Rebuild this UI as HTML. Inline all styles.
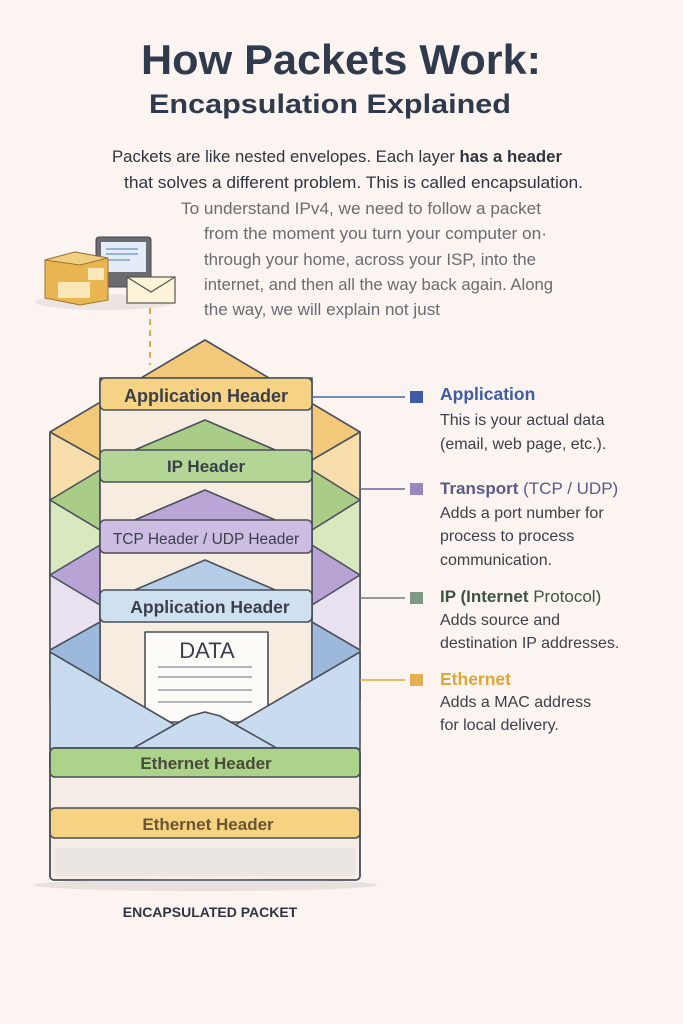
<!DOCTYPE html>
<html><head><meta charset="utf-8"><style>
html,body{margin:0;padding:0;background:#fcf4f1;}
svg{display:block;font-family:"Liberation Sans",sans-serif;}
</style></head><body>
<svg width="683" height="1024" viewBox="0 0 683 1024" xmlns="http://www.w3.org/2000/svg">
<rect width="683" height="1024" fill="#fcf4f1"/>
<text x="341" y="74" text-anchor="middle" font-size="42" font-weight="bold" fill="#2f3a4c" textLength="400" lengthAdjust="spacingAndGlyphs">How Packets Work:</text>
<text x="330" y="113" text-anchor="middle" font-size="27" font-weight="bold" fill="#2f3a4c" textLength="362" lengthAdjust="spacingAndGlyphs">Encapsulation Explained</text>
<g font-size="17" fill="#2f3440">
<text x="112" y="162" textLength="450" lengthAdjust="spacingAndGlyphs">Packets are like nested envelopes. Each layer <tspan font-weight="bold">has a header</tspan></text>
<text x="124" y="188" textLength="459" lengthAdjust="spacingAndGlyphs">that solves a different problem. This is called encapsulation.</text>
</g>
<g font-size="16.5" fill="#6b6b70">
<text x="181" y="214" textLength="360" lengthAdjust="spacingAndGlyphs">To understand IPv4, we need to follow a packet</text>
<text x="204" y="239" textLength="343" lengthAdjust="spacingAndGlyphs">from the moment you turn your computer on·</text>
<text x="204" y="265" textLength="332" lengthAdjust="spacingAndGlyphs">through your home, across your ISP, into the</text>
<text x="204" y="290" textLength="349" lengthAdjust="spacingAndGlyphs">internet, and then all the way back again. Along</text>
<text x="204" y="315" textLength="236" lengthAdjust="spacingAndGlyphs">the way, we will explain not just</text>
</g>
<!-- icon -->
<ellipse cx="105" cy="302" rx="70" ry="8" fill="#ece4e2"/>
<rect x="96" y="237" width="55" height="50" rx="3" fill="#6a6c72" stroke="#444" />
<rect x="101" y="242" width="45" height="30" fill="#e4ecf7"/>
<line x1="106" y1="249" x2="138" y2="249" stroke="#7fa0d0" stroke-width="1.5"/>
<line x1="106" y1="254" x2="138" y2="254" stroke="#7fa0d0" stroke-width="1.5"/>
<line x1="106" y1="260" x2="130" y2="260" stroke="#7fa0d0" stroke-width="1.5"/>
<polygon points="45,260 75,252 108,258 108,300 80,305 45,298" fill="#e9b652" stroke="#9a7430"/>
<polygon points="45,260 75,252 108,258 80,265" fill="#f2cf80" stroke="#9a7430"/>
<rect x="58" y="282" width="32" height="16" fill="#fbe7b8"/>
<rect x="88" y="268" width="16" height="12" fill="#fbe7b8"/>
<rect x="127" y="277" width="48" height="26" fill="#fdf4d8" stroke="#555" stroke-width="1.2"/>
<polyline points="127,277 151,292 175,277" fill="none" stroke="#555" stroke-width="1.2"/>
<line x1="150" y1="308" x2="150" y2="365" stroke="#e6a93b" stroke-width="2" stroke-dasharray="6,5"/>

<g stroke="#4a4f5a" stroke-width="1.6" stroke-linejoin="round">
<polygon points="50,432 205,340 360,432 360,500 50,500" fill="#f2c979"/>
<polygon points="50,432 100,460 100,510 50,500" fill="#f7deaa"/>
<polygon points="360,432 312,460 312,510 360,500" fill="#f7deaa"/>
<polygon points="50,500 100,470 100,550 50,575" fill="#a9cd86"/>
<polygon points="360,500 312,470 312,550 360,575" fill="#a9cd86"/>
<polygon points="50,500 100,530 100,580 50,575" fill="#d8e8bf"/>
<polygon points="360,500 312,530 312,580 360,575" fill="#d8e8bf"/>
<polygon points="50,575 100,545 100,620 50,645" fill="#b8a4d4"/>
<polygon points="360,575 312,545 312,620 360,645" fill="#b8a4d4"/>
<polygon points="50,575 100,605 100,650 50,650" fill="#e9e0f0"/>
<polygon points="360,575 312,605 312,650 360,650" fill="#e9e0f0"/>
<rect x="100" y="378" width="212" height="370" fill="#f7ece0"/>
<rect x="100" y="378" width="212" height="32" rx="5" fill="#f6d284"/>
<polygon points="130,452 205,420 280,452" fill="#a9cd86"/>
<rect x="100" y="450" width="212" height="32" rx="5" fill="#b3d595"/>
<polygon points="130,522 205,490 280,522" fill="#baa6d6"/>
<rect x="100" y="520" width="212" height="33" rx="5" fill="#cdbde2"/>
<polygon points="130,592 205,560 280,592" fill="#b5cde6"/>
<rect x="100" y="590" width="212" height="32" rx="5" fill="#cfe0f0"/>
<polygon points="50,650 100,622 100,690 50,700" fill="#9cb9dc"/>
<polygon points="360,650 312,622 312,690 360,700" fill="#9cb9dc"/>
<rect x="145" y="632" width="123" height="90" fill="#fdfbf8"/>
<polygon points="50,652 175,725 205,713 235,725 360,652 360,750 50,750" fill="#c9dcef"/>
<polygon points="130,750 190,716 205,712 220,716 280,750" fill="#c9dcef"/>
<rect x="50" y="748" width="310" height="132" rx="4" fill="#f5ede6"/>
<rect x="50" y="748" width="310" height="29" rx="5" fill="#acd38a"/>
<rect x="50" y="808" width="310" height="30" rx="5" fill="#f6d283"/>
</g>
<rect x="55" y="848" width="300" height="28" fill="#ece6e2"/>
<ellipse cx="205" cy="885" rx="172" ry="6" fill="#e8e0dc" />
<rect x="50" y="748" width="310" height="132" rx="4" fill="none" stroke="#4a4f5a" stroke-width="1.6"/>
<g stroke="#9aa0a8" stroke-width="1.5">
<line x1="158" y1="667" x2="252" y2="667"/><line x1="158" y1="677" x2="252" y2="677"/>
<line x1="158" y1="690" x2="252" y2="690"/><line x1="158" y1="702" x2="252" y2="702"/>
</g>
<g font-weight="bold" fill="#3a3f4a" text-anchor="middle">
<text x="206" y="402" font-size="18">Application Header</text>
<text x="206" y="472" font-size="17">IP Header</text>
<text x="206" y="544" font-size="15.5" font-weight="normal">TCP Header / UDP Header</text>
<text x="210" y="613" font-size="17.5">Application Header</text>
<text x="207" y="658" font-size="22" font-weight="normal">DATA</text>
<text x="206" y="769" font-size="17" fill="#4a4a3a">Ethernet Header</text>
<text x="208" y="830" font-size="17" fill="#6b5632">Ethernet Header</text>
<text x="210" y="917" font-size="14" fill="#2f3440">ENCAPSULATED PACKET</text>
</g>
<line x1="312" y1="397" x2="405" y2="397" stroke="#4867a8" stroke-width="1.6"/>
<rect x="410" y="391" width="13" height="12" fill="#3d5da3"/>
<line x1="360" y1="489" x2="405" y2="489" stroke="#6b6894" stroke-width="1.6"/>
<rect x="410" y="483" width="13" height="12" fill="#9a88bd"/>
<line x1="360" y1="598" x2="405" y2="598" stroke="#6f7d80" stroke-width="1.6"/>
<rect x="410" y="592" width="13" height="12" fill="#7f9a84"/>
<line x1="360" y1="680" x2="405" y2="680" stroke="#e3a73c" stroke-width="1.6"/>
<rect x="410" y="674" width="13" height="12" fill="#e2b050"/>
<g font-size="16" fill="#3e4048">
<text x="440" y="400" font-size="17.5" font-weight="bold" fill="#3d5da3">Application</text>
<text x="440" y="425">This is your actual data</text>
<text x="440" y="449">(email, web page, etc.).</text>
<text x="440" y="494" font-size="17" fill="#5c5a88"><tspan font-weight="bold">Transport</tspan> (TCP / UDP)</text>
<text x="440" y="518">Adds a port number for</text>
<text x="440" y="541">process to process</text>
<text x="440" y="565">communication.</text>
<text x="440" y="602" font-size="17" fill="#3f5540"><tspan font-weight="bold">IP (Internet</tspan> Protocol)</text>
<text x="440" y="625">Adds source and</text>
<text x="440" y="648">destination IP addresses.</text>
<text x="440" y="685" font-size="17.5" font-weight="bold" fill="#dca63c">Ethernet</text>
<text x="440" y="707">Adds a MAC address</text>
<text x="440" y="730">for local delivery.</text>
</g>
</svg>
</body></html>
